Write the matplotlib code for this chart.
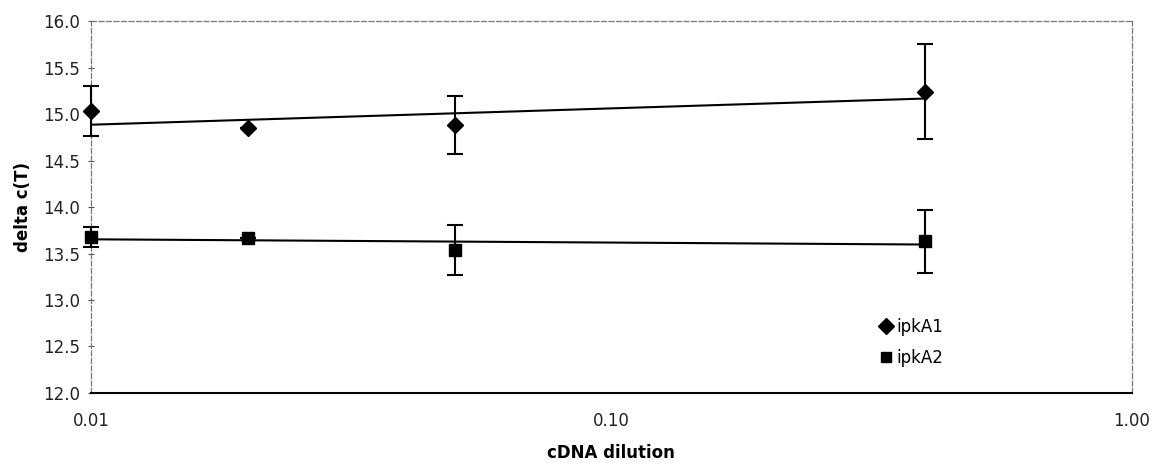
import numpy as np
import matplotlib.pyplot as plt
from matplotlib.lines import Line2D

# data
dilution = [0.01, 0.02, 0.05, 0.4]
ipkA1 = [15.03, 14.85, 14.88, 15.24]
ipkA1_err = [0.27, 0.0, 0.31, 0.51]
ipkA2 = [13.68, 13.67, 13.54, 13.63]
ipkA2_err = [0.11, 0.0, 0.27, 0.34]

y_ticks = [12.0, 12.5, 13.0, 13.5, 14.0, 14.5, 15.0, 15.5, 16.0]
x_ticks = [0.01, 0.1, 1.0]
x_ticklabels = ['0.01', '0.10', '1.00']

fig = plt.figure(figsize=(11.59, 4.70), dpi=100)
ax = fig.add_axes([0.0785, 0.164, 0.898, 0.791])

x = np.array(dilution)
lx = np.log10(x)

# logarithmic trendlines (excel style)
for y in (ipkA1, ipkA2):
    p = np.polyfit(lx, y, 1)
    ax.plot(x[[0, -1]], np.polyval(p, lx[[0, -1]]), color='black', lw=1.5, zorder=2)

for vals, err, mk, lab in ((ipkA1, ipkA1_err, 'D', 'ipkA1'), (ipkA2, ipkA2_err, 's', 'ipkA2')):
    res = ax.errorbar(x, vals, yerr=err, fmt=mk, color='black', ms=8,
                      capsize=6, elinewidth=1.5, capthick=1.5, label=lab, zorder=3)
    for art in res.get_children():
        art.set_clip_on(False)

ax.set_xscale('log')
ax.set_xlim(0.01, 1.0)
ax.set_ylim(12.0, 16.0)
ax.set_xticks(x_ticks)
ax.set_xticklabels(x_ticklabels)
ax.minorticks_off()
ax.set_yticks(y_ticks)
ax.set_yticklabels([f'{v:.1f}' for v in y_ticks])
ax.tick_params(axis='both', labelsize=12, color='#555555', labelcolor='#222222')
ax.tick_params(axis='x', length=0, pad=14)
ax.tick_params(axis='y', length=4, direction='inout', pad=6)

for s in ('left', 'top', 'right'):
    ax.spines[s].set_linestyle((0, (4, 2)))
    ax.spines[s].set_color('#777777')
    ax.spines[s].set_linewidth(0.9)
ax.spines['bottom'].set_color('black')
ax.spines['bottom'].set_linewidth(1.5)

ax.set_xlabel('cDNA dilution', fontsize=12, fontweight='bold', labelpad=10)
ax.set_ylabel('delta c(T)', fontsize=12, fontweight='bold', labelpad=8)

# legend without error bars
handles = [Line2D([], [], marker='D', color='black', ls='none', ms=8),
           Line2D([], [], marker='s', color='black', ls='none', ms=7)]
ax.legend(handles, ['ipkA1', 'ipkA2'], loc='lower right', bbox_to_anchor=(0.833, 0.03),
          frameon=False, fontsize=12, handletextpad=0.1, handlelength=1.0,
          labelspacing=0.75)

fig.savefig('out.png', dpi=100)
